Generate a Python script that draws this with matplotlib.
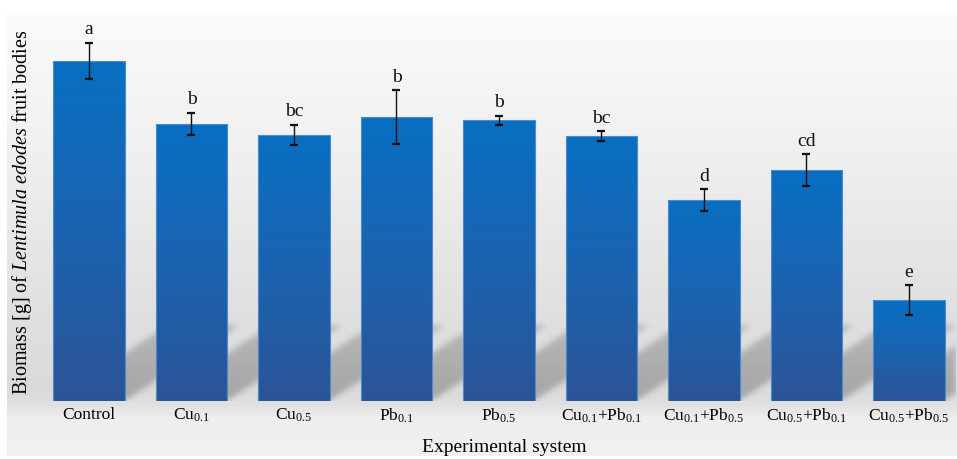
import numpy as np
import matplotlib
matplotlib.use("Agg")
import matplotlib.pyplot as plt
from matplotlib.path import Path
from matplotlib.patches import Rectangle
from matplotlib.colors import LinearSegmentedColormap

plt.rcParams['font.family'] = ['Liberation Serif', 'DejaVu Serif']
plt.rcParams['mathtext.fontset'] = 'custom'
plt.rcParams['mathtext.rm'] = 'Liberation Serif'
plt.rcParams['mathtext.it'] = 'Liberation Serif:italic'

# --- data ---
systems = ['Control', 'Cu$_{0.1}$', 'Cu$_{0.5}$', 'Pb$_{0.1}$', 'Pb$_{0.5}$',
           'Cu$_{0.1}$+Pb$_{0.1}$', 'Cu$_{0.1}$+Pb$_{0.5}$',
           'Cu$_{0.5}$+Pb$_{0.1}$', 'Cu$_{0.5}$+Pb$_{0.5}$']
biomass = [34.0, 27.7, 26.6, 28.4, 28.1, 26.5, 20.1, 23.1, 10.1]
sd = [1.83, 1.13, 1.02, 2.68, 0.45, 0.47, 1.08, 1.58, 1.50]
groups = ['a', 'b', 'bc', 'b', 'b', 'bc', 'd', 'cd', 'e']

W, H = 957, 459
fig = plt.figure(figsize=(W / 100, H / 100), dpi=100)

# --- background: wall gradient + floor ---
bg_ax = fig.add_axes([0, 0, 1, 1], zorder=0)
bg_ax.set_axis_off()
rows = np.arange(H)
shade = np.interp(rows, [13, 150, 300, 390, 403, 418, 455],
                  [251, 240, 225, 218, 224, 238, 241])
bg = np.ones((H, W, 3))
bg[13:456, 7:, :] = (shade[13:456, None, None] / 255.0)
bg_ax.imshow(bg, extent=(0, W, H, 0), aspect='auto', interpolation='bilinear')
bg_ax.set_xlim(0, W)
bg_ax.set_ylim(H, 0)

# --- main axes ---
x0, x1 = -0.8, 8.46
y1 = 38.9
ax = fig.add_axes([7 / W, 58 / H, (956 - 7) / W, 389 / H], zorder=1)
ax.patch.set_alpha(0)
for s in ax.spines.values():
    s.set_visible(False)

x = np.arange(len(systems))
width = 0.70

# soft shadows cast behind each bar
nx, ny = 950, 389
gx = np.linspace(x0, x1, nx)
gy = np.linspace(0, y1, ny)
GX, GY = np.meshgrid(gx, gy)
pts = np.column_stack([GX.ravel(), GY.ravel()])
mask = np.zeros(GX.size)
dxu, dyu = 1.12, 7.6
for xi in x:
    xl, xr = xi - width / 2, xi + width / 2
    poly = Path([(xl, 0), (xr, 0), (xr + dxu, dyu), (xl + dxu, dyu), (xl, 0)])
    mask = np.maximum(mask, poly.contains_points(pts).astype(float))
mask = mask.reshape(GX.shape)

k = np.exp(-0.5 * (np.arange(-9, 10) / 3.0) ** 2)
k /= k.sum()
mask = np.array([np.convolve(r, k, mode='same') for r in mask])
mask = np.array([np.convolve(c, k, mode='same') for c in mask.T]).T
fade = 1.0 - 0.25 * np.clip(GY / dyu, 0, 1)
shadow = np.zeros((ny, nx, 4))
shadow[..., 3] = 0.24 * mask * fade
ax.imshow(shadow, extent=(x0, x1, 0, y1), origin='lower', aspect='auto', zorder=1)

# gradient-filled bars
bar_cmap = LinearSegmentedColormap.from_list('bar', ['#2c5496', '#1b63b0', '#086fc2'])
grad = np.linspace(0, 1, 256).reshape(-1, 1)
for xi, h in zip(x, biomass):
    xl = xi - width / 2
    ax.imshow(grad, cmap=bar_cmap, extent=(xl, xl + width, 0, h), origin='lower',
              aspect='auto', zorder=2)
    ax.add_patch(Rectangle((xl, 0), width, h, facecolor='none',
                           edgecolor='#4a8ccf', linewidth=0.8, zorder=3))

ax.errorbar(x, biomass, yerr=sd, fmt='none', ecolor='#111111', elinewidth=1.0,
            capsize=3, capthick=1.6, zorder=4)

for xi, h, e, g in zip(x, biomass, sd, groups):
    ax.annotate(g, (xi, h + e), xytext=(0, 6), textcoords='offset points',
                ha='center', va='baseline', fontsize=14, color='#111111')

ax.set_xlim(x0, x1)
ax.set_ylim(0, y1)
ax.set_yticks([])
ax.set_xticks(x)
ax.set_xticklabels(systems, fontsize=12.5)
ax.tick_params(axis='x', length=0, pad=4)

fig.text(504 / W, (H - 447) / H, 'Experimental system', ha='center', va='center',
         fontsize=14)
fig.text(22 / W, (H - 212) / H,
         r'Biomass [g] of $\mathit{Lentimula\ edodes}$ fruit bodies',
         rotation=90, ha='center', va='center', fontsize=14.5)

fig.savefig('out.png', dpi=100)
